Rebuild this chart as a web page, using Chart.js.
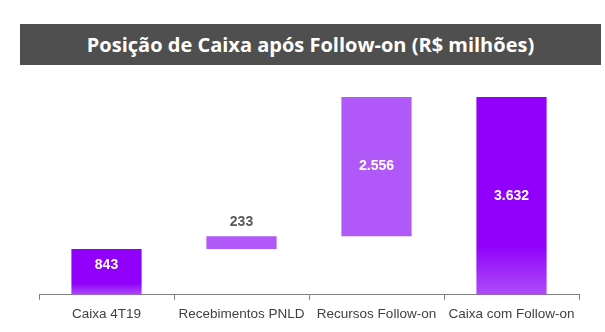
<!DOCTYPE html>
<html>
<head>
<meta charset="utf-8">
<script src="https://cdn.jsdelivr.net/npm/chart.js@4"></script>
<style>
  html, body { margin: 0; padding: 0; background: #fff; }
  #wrap { position: relative; width: 605px; height: 332px; }
  #banner {
    position: absolute; left: 20px; top: 24px; width: 581px; height: 41px;
    background: #4f4f4f; color: #fff; text-align: center;
    font: bold 20px "Open Sans", sans-serif; line-height: 41px;
  }
  canvas { position: absolute; left: 0; top: 0; }
</style>
</head>
<body>
<div id="wrap">
  <canvas id="chart" width="605" height="332"></canvas>
  <div id="banner">Posição de Caixa após Follow-on (R$ milhões)</div>
</div>
<script>
const categories = ['Caixa 4T19', 'Recebimentos PNLD', 'Recursos Follow-on', 'Caixa com Follow-on'];
const barStarts = [0, 843, 1076, 0];
const barEnds = [843, 1076, 3632, 3632];
const valueLabels = ['843', '233', '2.556', '3.632'];
const isTotal = [true, false, false, true];

const DARK = '#9000fa';
const LIGHT = '#b058f8';

function barColor(ctx) {
    const chart = ctx.chart;
    const i = ctx.dataIndex;
    if (!isTotal[i]) return LIGHT;
    if (!chart.chartArea) return DARK;
    const y = chart.scales.y;
    const top = y.getPixelForValue(barEnds[i]);
    const bottom = y.getPixelForValue(barStarts[i]);
    const g = chart.ctx.createLinearGradient(0, top, 0, bottom);
    g.addColorStop(0, DARK);
    g.addColorStop(0.75, DARK);
    g.addColorStop(1, '#ac4ef8');
    return g;
}

const labelPlugin = {
    id: 'valueLabels',
    afterDatasetsDraw(chart) {
        const ctx = chart.ctx;
        const meta = chart.getDatasetMeta(0);
        ctx.save();
        ctx.font = 'bold 14px "Liberation Sans", Arial, sans-serif';
        ctx.textAlign = 'center';
        ctx.textBaseline = 'middle';
        meta.data.forEach((bar, i) => {
            if (i === 1) {
                ctx.fillStyle = '#595959';
                ctx.fillText(valueLabels[i], bar.x, bar.y - 14);
            } else {
                ctx.fillStyle = '#ffffff';
                const mid = (bar.y + bar.base) / 2;
                ctx.fillText(valueLabels[i], bar.x, i === 0 ? mid - 7 : mid);
            }
        });
        ctx.restore();
    }
};

new Chart(document.getElementById('chart'), {
    type: 'bar',
    data: {
        labels: categories,
        datasets: [{
            data: barStarts.map((s, i) => [s, barEnds[i]]),
            backgroundColor: barColor,
            borderWidth: 0,
            barPercentage: 0.52,
            categoryPercentage: 1
        }]
    },
    options: {
        responsive: false,
        animation: false,
        layout: { padding: { left: 39, right: 26, top: 97, bottom: 4 } },
        plugins: { legend: { display: false }, tooltip: { enabled: false } },
        scales: {
            x: {
                grid: { display: true, drawOnChartArea: false, tickLength: 5, color: '#808080', offset: true },
                border: { display: true, color: '#808080', width: 1 },
                ticks: { color: '#404040', font: { family: '"Liberation Sans", Arial, sans-serif', size: 13.5 }, padding: 6, maxRotation: 0 }
            },
            y: { display: false, min: 0, max: 3632 }
        }
    },
    plugins: [labelPlugin]
});
</script>
</body>
</html>
